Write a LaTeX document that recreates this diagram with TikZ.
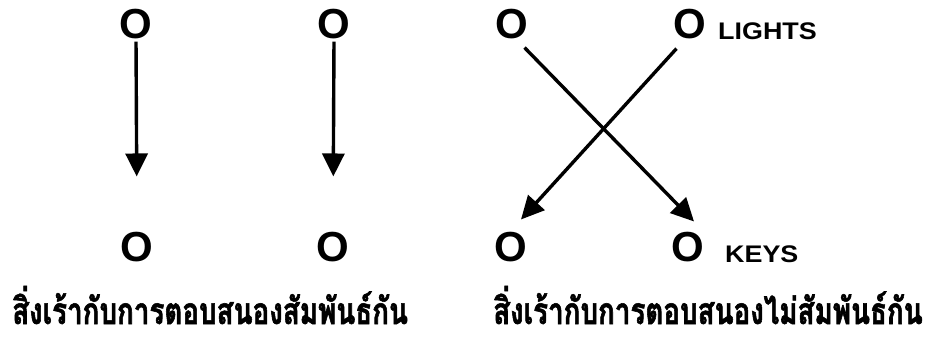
\documentclass[tikz,border=0pt]{standalone}
\usepackage{fontspec}
\setmainfont{Liberation Sans}
\newfontfamily\thaifont[Script=Thai,FakeStretch=0.75,FakeBold=1.5]{Loma}
\newfontfamily\capsfont[FakeStretch=1.12]{Liberation Sans}
\usetikzlibrary{arrows.meta,positioning}

\begin{document}
\begin{tikzpicture}[
          x=1pt,y=-1pt,
          every node/.style={inner sep=0pt},
          stim/.style={anchor=base,font=\fontsize{42}{42}\selectfont\bfseries},
          tag/.style={anchor=base west,font=\fontsize{24}{24}\selectfont\capsfont\bfseries},
          caption/.style={anchor=base west,font=\fontsize{37}{37}\selectfont\thaifont\bfseries},
          arr/.style={-{Triangle[length=23pt,width=22pt]},line width=3.4pt},
      ]
        \useasboundingbox (0,0) rectangle (925,337);
        \node[stim] (t1) at (136,38) {O};
        \node[stim] (t2) at (334,38) {O};
        \node[stim] (t3) at (512,38) {O};
        \node[stim] (t4) at (690,38) {O};
        \node[stim] (b1) at (137,261) {O};
        \node[stim] (b2) at (333,261) {O};
        \node[stim] (b3) at (511,261) {O};
        \node[stim] (b4) at (688,261) {O};
        \node[tag] (lights) at (718,40) {LIGHTS};
        \node[tag] (keys) at (725,262) {KEYS};
        \node[caption] (related) at (12,324) {สิ่งเร้ากับการตอบสนองสัมพันธ์กัน};
        \node[caption] (unrelated) at (493,324) {สิ่งเร้ากับการตอบสนองไม่สัมพันธ์กัน};
        \draw[arr,shorten <=3pt,shorten >=55pt] (t1.south) -- (b1.north);
        \draw[arr,shorten <=3pt,shorten >=55pt] (t2.south) -- (b2.north);
        \draw[arr] ([xshift=-4pt,yshift=-9pt]t3.south east) -- ([xshift=6pt,yshift=10pt]b4.north);
        \draw[arr] ([xshift=3pt,yshift=-10pt]t4.south west) -- ([xshift=10pt,yshift=12pt]b3.north);
      \end{tikzpicture}
\end{document}
